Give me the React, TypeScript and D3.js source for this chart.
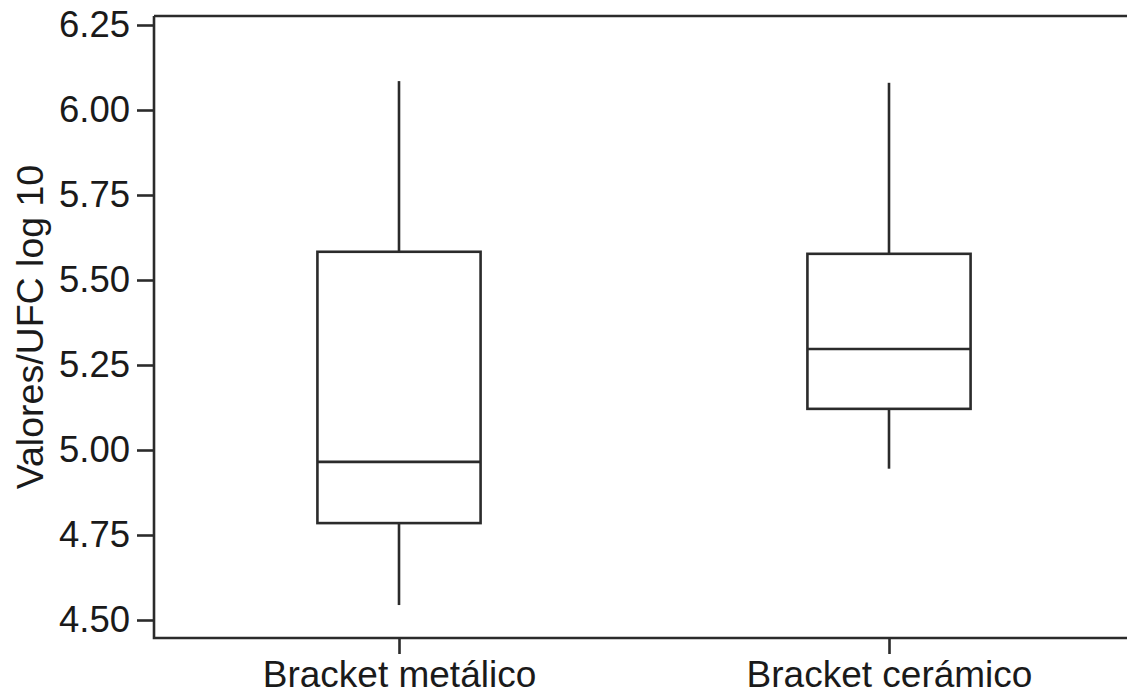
import { useEffect, useRef } from "react";
import * as d3 from "d3";

const categories = ["Bracket metálico", "Bracket cerámico"];
const whiskerHigh = [6.085, 6.08];
const q3 = [5.583, 5.577];
const median = [4.965, 5.297];
const q1 = [4.785, 5.121];
const whiskerLow = [4.544, 4.945];
const yTicks = [4.5, 4.75, 5.0, 5.25, 5.5, 5.75, 6.0, 6.25];
const yLabel = "Valores/UFC log 10";

const WIDTH = 1127;
const HEIGHT = 698;
const FONT = "'Liberation Sans', Arial, Helvetica, sans-serif";
const INK = "#2b2b2b";
const TEXT = "#1a1a1a";
const STROKE = 2.6;

// plot frame: left axis, top border and bottom axis
const frame = { left: 154, top: 16, bottom: 638, right: 1134 };

export default function App() {
  const svgRef = useRef<SVGSVGElement>(null);

  useEffect(() => {
    if (!svgRef.current) return;
    const svg = d3.select(svgRef.current);
    svg.selectAll("*").remove();

    const y = d3.scaleLinear().domain([4.5, 6.25]).range([620, 25]);
    const x = d3.scalePoint<string>()
      .domain(categories)
      .range([frame.left, frame.right])
      .padding(0.5);
    const boxHalf = x.step() * 0.1665;

    const g = svg.append("g");

    // frame lines
    g.append("path")
      .attr("d", `M${frame.left},${frame.top}H${WIDTH + 5}M${frame.left},${frame.top}V${frame.bottom}H${WIDTH + 5}`)
      .attr("fill", "none")
      .attr("stroke", INK)
      .attr("stroke-width", STROKE);

    // y axis ticks + labels
    const yAxis = d3.axisLeft(y)
      .tickValues(yTicks)
      .tickSize(17)
      .tickPadding(7)
      .tickFormat((d) => d3.format(".2f")(d as number));
    g.append("g")
      .attr("transform", `translate(${frame.left},0)`)
      .call(yAxis)
      .call((s) => s.select(".domain").remove())
      .call((s) => s.selectAll("line").attr("stroke", INK).attr("stroke-width", STROKE))
      .call((s) => s.selectAll("text")
        .attr("fill", TEXT)
        .attr("font-size", 36.5)
        .attr("font-family", FONT));

    // x axis ticks + labels
    const xAxis = d3.axisBottom(x).tickSize(16).tickPadding(7);
    g.append("g")
      .attr("transform", `translate(0,${frame.bottom})`)
      .call(xAxis)
      .call((s) => s.select(".domain").remove())
      .call((s) => s.selectAll("line").attr("stroke", INK).attr("stroke-width", STROKE))
      .call((s) => s.selectAll("text")
        .attr("fill", TEXT)
        .attr("font-size", 37)
        .attr("font-family", FONT));

    // y axis title
    g.append("text")
      .attr("transform", `translate(43,${(frame.top + frame.bottom) / 2}) rotate(-90)`)
      .attr("text-anchor", "middle")
      .attr("fill", TEXT)
      .attr("font-size", 37.5)
      .attr("font-family", FONT)
      .text(yLabel);

    // boxes
    categories.forEach((c, i) => {
      const cx = x(c) ?? 0;
      const bg = g.append("g").attr("stroke", INK).attr("stroke-width", STROKE).attr("fill", "none");
      bg.append("line")
        .attr("x1", cx).attr("x2", cx)
        .attr("y1", y(whiskerHigh[i])).attr("y2", y(q3[i]));
      bg.append("line")
        .attr("x1", cx).attr("x2", cx)
        .attr("y1", y(q1[i])).attr("y2", y(whiskerLow[i]));
      bg.append("rect")
        .attr("x", cx - boxHalf)
        .attr("y", y(q3[i]))
        .attr("width", boxHalf * 2)
        .attr("height", y(q1[i]) - y(q3[i]));
      bg.append("line")
        .attr("x1", cx - boxHalf).attr("x2", cx + boxHalf)
        .attr("y1", y(median[i])).attr("y2", y(median[i]));
    });
  }, []);

  return (
    <svg
      ref={svgRef}
      width={WIDTH}
      height={HEIGHT}
      style={{ position: "absolute", left: 0, top: 0, background: "#fff", display: "block" }}
    />
  );
}
